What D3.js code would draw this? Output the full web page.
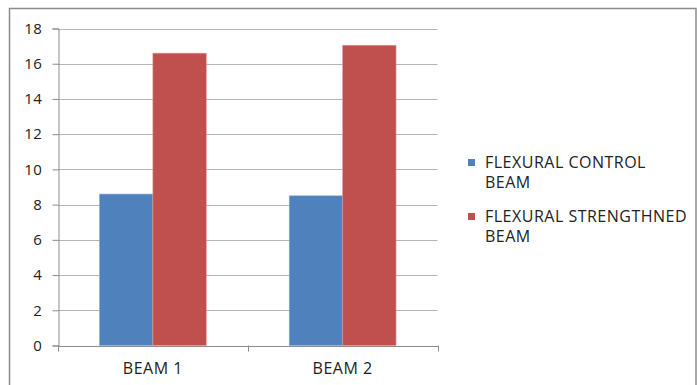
<!DOCTYPE html>
<html>
<head>
<meta charset="utf-8">
<script src="https://cdn.jsdelivr.net/npm/d3@7/dist/d3.min.js"></script>
<style>
  html, body { margin: 0; padding: 0; background: #fff; }
  svg { display: block; }
  text { font-family: "Open Sans", "Liberation Sans", sans-serif; fill: #222; }
</style>
</head>
<body>
<svg id="chart" width="697" height="385"></svg>
<script>
const categories = ["BEAM 1", "BEAM 2"];
const seriesNames = ["FLEXURAL CONTROL BEAM", "FLEXURAL STRENGTHNED BEAM"];
const legendLines = [["FLEXURAL CONTROL", "BEAM"], ["FLEXURAL STRENGTHNED", "BEAM"]];
const controlValues = [8.6, 8.5];
const strengthenedValues = [16.6, 17.05];
const yTicks = [0, 2, 4, 6, 8, 10, 12, 14, 16, 18];
const colors = ["#4F81BD", "#C0504D"];

const svg = d3.select("#chart");

// outer border
svg.append("rect")
  .attr("x", 9.5).attr("y", 8.5)
  .attr("width", 686.5).attr("height", 420)
  .attr("fill", "none").attr("stroke", "#8c8c8c").attr("stroke-width", 1.5);

const plotLeft = 58, plotRight = 437.5, plotTop = 28.5, plotBottom = 345.5;

const x0 = d3.scaleBand().domain(categories).range([plotLeft, plotRight]).paddingInner(0).paddingOuter(0);
const x1 = d3.scaleBand().domain(seriesNames).range([0, x0.bandwidth()]).paddingInner(0).paddingOuter(0.776);
const y = d3.scaleLinear().domain([0, 18]).range([plotBottom, plotTop]);

// gridlines
svg.append("g").selectAll("line").data(yTicks.filter(d => d > 0)).join("line")
  .attr("x1", plotLeft).attr("x2", plotRight)
  .attr("y1", d => Math.round(y(d)) + 0.5).attr("y2", d => Math.round(y(d)) + 0.5)
  .attr("stroke", "#b4b4b4").attr("stroke-width", 1);

// y axis
const yAxis = d3.axisLeft(y).tickValues(yTicks).tickSize(6).tickPadding(10).tickFormat(d3.format("d"));
const gy = svg.append("g").attr("transform", `translate(${plotLeft + 0.5},0)`).call(yAxis);
gy.select(".domain").attr("stroke", "#8c8c8c");
gy.selectAll(".tick line").attr("stroke", "#8c8c8c");
gy.selectAll(".tick text").style("font-size", "15px").style("letter-spacing", "0.6px").attr("fill", "#222");

// bars
const data = categories.map((c, i) => ({ cat: c, vals: [controlValues[i], strengthenedValues[i]] }));
const groups = svg.append("g").selectAll("g").data(data).join("g")
  .attr("transform", d => `translate(${x0(d.cat)},0)`);
groups.selectAll("rect").data(d => d.vals.map((v, j) => ({ v, j }))).join("rect")
  .attr("x", d => x1(seriesNames[d.j]))
  .attr("width", x1.bandwidth())
  .attr("y", d => y(d.v))
  .attr("height", d => y(0) - y(d.v))
  .attr("fill", d => colors[d.j])
  .attr("stroke", d => d.j === 0 ? "#8fb0d8" : "#e09a98")
  .attr("stroke-width", 0.6);

// x axis
const xAxis = d3.axisBottom(x0).tickSize(0).tickPadding(16.5);
const gx = svg.append("g").attr("transform", `translate(0,${plotBottom + 0.5})`).call(xAxis);
gx.select(".domain").attr("stroke", "#8c8c8c");
gx.selectAll(".tick text").style("font-size", "16px").style("letter-spacing", "0.5px").attr("fill", "#222");
const xTickPos = [plotLeft, plotLeft + x0.bandwidth(), plotRight];
svg.append("g").selectAll("line").data(xTickPos).join("line")
  .attr("x1", d => Math.round(d) + 0.5).attr("x2", d => Math.round(d) + 0.5)
  .attr("y1", plotBottom).attr("y2", plotBottom + 6)
  .attr("stroke", "#8c8c8c");

// legend
const lg = svg.append("g");
legendLines.forEach((lines, i) => {
  const base = 168 + i * 54;
  lg.append("rect").attr("x", 468).attr("y", base - 9).attr("width", 7).attr("height", 7).attr("fill", colors[i]);
  lines.forEach((t, k) => {
    lg.append("text").attr("x", 485).attr("y", base + k * 20)
      .style("font-size", "16px").style("letter-spacing", "0.5px").text(t);
  });
});
</script>
</body>
</html>
